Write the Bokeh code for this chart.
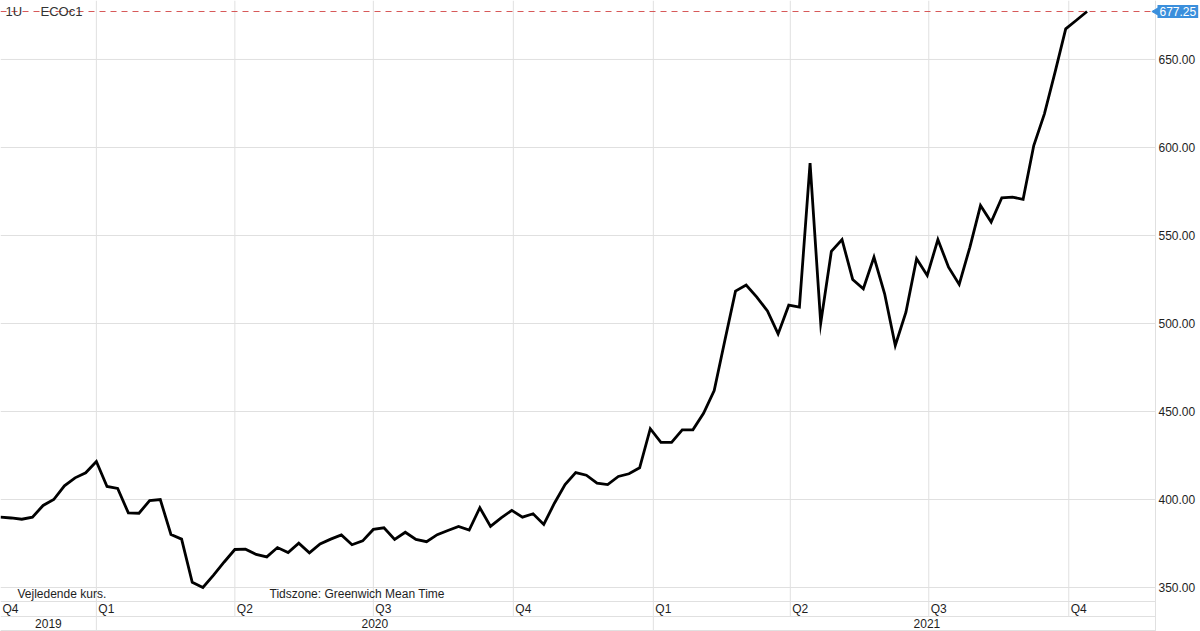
import math
import pandas as pd
from bokeh.plotting import figure
from bokeh.models import Range1d, Label
from bokeh.core.properties import value
from bokeh.embed import file_html
from bokeh.resources import INLINE

# ---------------- data ----------------
start_date = "2019-10-30"          # first weekly observation
prices = [
    390.0, 389.5, 388.8, 390.0, 396.6, 400.0, 407.8, 412.3, 415.2, 421.6,
    407.4, 406.3, 392.4, 392.2, 399.4, 400.0, 380.1, 377.5, 353.0, 350.0,
    357.0, 364.5, 371.6, 371.8, 368.8, 367.4, 372.7, 369.9, 375.2, 369.7,
    374.8, 377.5, 379.9, 374.3, 376.5, 383.0, 383.9, 377.3, 381.4, 377.3,
    376.0, 380.0, 382.4, 384.7, 382.6, 395.3, 384.7, 389.6, 393.8, 390.0,
    391.9, 385.8, 397.9, 408.5, 415.3, 413.8, 409.3, 408.5, 413.1, 414.6,
    418.0, 440.2, 432.4, 432.4, 439.6, 439.6, 449.0, 461.9, 490.3, 518.4,
    521.8, 515.0, 507.1, 494.1, 510.4, 509.3, 591.1, 500.2, 541.0, 547.7,
    525.0, 519.7, 537.7, 516.9, 487.5, 506.4, 536.8, 527.3, 547.7, 532.0,
    522.2, 543.3, 567.0, 557.6, 571.4, 571.8, 570.5, 601.1, 619.1, 642.8,
    667.4, 672.3, 677.25,
]
last_price = 677.25
y_ticks = [350, 400, 450, 500, 550, 600, 650]
quarter_starts = ["2019-10-01", "2020-01-01", "2020-04-01", "2020-07-01", "2020-10-01",
                  "2021-01-01", "2021-04-01", "2021-07-01", "2021-10-01"]
quarter_labels = ["Q4", "Q1", "Q2", "Q3", "Q4", "Q1", "Q2", "Q3", "Q4"]
year_labels = ["2019", "2020", "2021"]
year_starts = ["2019-01-01", "2020-01-01", "2021-01-01", "2022-01-01"]
interval_label = "1U"
series_name = "ECOc1"
note_left = "Vejledende kurs."
note_tz = "Tidszone: Greenwich Mean Time"

# ---------------- layout ----------------
W, H = 1200, 631
RIGHT = 45            # price-scale column at the right
FW = W - RIGHT        # width of the price area
PLOT_H = 601          # price area height; the rest is the date bands
FONT = value("Liberation Sans")
FS = value("12px")
GRID = "#e0e0e0"
TXT = "#1e1e1e"


def ms(d):
    return pd.Timestamp(d).value / 1e6


dates_ms = [ms(d) for d in pd.date_range(start_date, periods=len(prices), freq="7D")]
xs = ms("2019-10-30")
xe = ms("2021-11-27")
px_ms = (xe - xs) / FW
x_full = xe + RIGHT * px_ms
y_top = 683.5
y_plot_bottom = 342.05
k = PLOT_H / (y_top - y_plot_bottom)
y_bottom = y_plot_bottom - (H - PLOT_H) / k


def fx(px):
    return xs + px * px_ms


def fy(py):
    return y_top - py / k


p = figure(width=W, height=H, output_backend="svg", toolbar_location=None,
           x_axis_location=None, y_axis_location=None,
           x_range=Range1d(xs, x_full), y_range=Range1d(y_bottom, y_top),
           min_border_left=0, min_border_top=0, min_border_bottom=0, min_border_right=0)
p.outline_line_color = None
p.xgrid.visible = False
p.ygrid.visible = False
p.background_fill_color = "white"
p.border_fill_color = "white"

# horizontal grid lines
n = len(y_ticks)
p.segment(x0=[xs] * n, y0=y_ticks, x1=[xe] * n, y1=y_ticks, line_color=GRID, line_width=1)

# band separator lines
y_q_bottom = fy(PLOT_H + 15)
y_y_bottom = fy(PLOT_H + 29)
hb = [y_plot_bottom, y_q_bottom, y_y_bottom]
p.segment(x0=[xs] * 3, y0=hb, x1=[xe] * 3, y1=hb, line_color=GRID, line_width=1)

# right border of the price area
p.segment(x0=[xe], y0=[y_bottom], x1=[xe], y1=[y_top], line_color=GRID, line_width=1)

# vertical grid lines at quarter starts
vx, vy0 = [], []
for q, lab in zip(quarter_starts, quarter_labels):
    x = ms(q)
    if x <= xs:
        continue
    vx.append(x)
    vy0.append(y_bottom if lab == "Q1" else y_q_bottom)
p.segment(x0=vx, y0=vy0, x1=vx, y1=[y_top] * len(vx), line_color=GRID, line_width=1)

# price scale labels
p.text(x=[xe + 3 * px_ms] * n, y=y_ticks, text=[f"{t:.2f}" for t in y_ticks], text_font=FONT,
       text_font_size=FS, text_color=TXT, text_align="left", text_baseline="middle")

# price line
p.line(dates_ms, prices, line_color="black", line_width=2.8, line_join="miter")

# last price dashed line
p.segment(x0=[xs], y0=[last_price], x1=[xe], y1=[last_price], line_color="#d03c3c",
          line_width=1, line_alpha=0.85, line_dash="6 5")

# quarter labels
qx = [max(ms(q), xs) + 2 * px_ms for q in quarter_starts]
p.text(x=qx, y=[fy(PLOT_H + 7.5)] * len(qx), text=quarter_labels, text_font=FONT,
       text_font_size=FS, text_color=TXT, text_align="left", text_baseline="middle")

# year labels
yx = []
for i in range(len(year_labels)):
    a = max(ms(year_starts[i]), xs)
    b = min(ms(year_starts[i + 1]), x_full)
    yx.append((a + b) / 2)
p.text(x=yx, y=[fy(PLOT_H + 22)] * len(yx), text=year_labels, text_font=FONT,
       text_font_size=FS, text_color=TXT, text_align="center", text_baseline="middle")

# notes
p.text(x=[fx(17), fx(269)], y=[fy(PLOT_H - 8)] * 2, text=[note_left, note_tz], text_font=FONT,
       text_font_size=FS, text_color=TXT, text_align="left", text_baseline="middle")

# legend texts
p.text(x=[fx(5), fx(40)], y=[last_price] * 2, text=[interval_label, series_name], text_font=FONT,
       text_font_size=value("13px"), text_color="#333333", text_align="left", text_baseline="middle")

# last value tag
TAG = "#3b8fdc"
p.scatter(x=[xe + 1 * px_ms], y=[last_price], marker="triangle", size=8, angle=math.pi / 2,
          fill_color=TAG, line_color=TAG)
p.add_layout(Label(x=xe, y=last_price, x_offset=2, text=f"{last_price:.2f}",
                   text_font="Liberation Sans", text_font_size="12px", text_color="white",
                   text_baseline="middle", text_align="left",
                   background_fill_color=TAG, padding=2))

open("out.html", "w").write(file_html(p, INLINE))
